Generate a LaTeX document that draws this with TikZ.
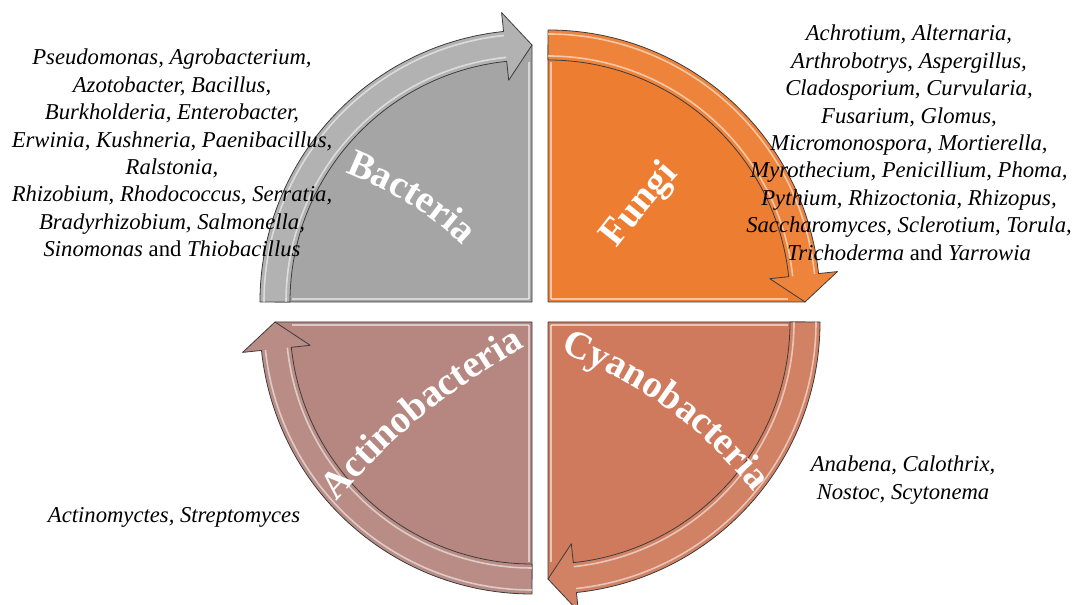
\documentclass[tikz,border=0pt]{standalone}
\usepackage{fontspec}
\setmainfont{Liberation Serif}
\usetikzlibrary{calc,decorations.text}
\definecolor{cbac}{RGB}{165,165,165}
\definecolor{cfun}{RGB}{237,125,49}
\definecolor{ccya}{RGB}{207,122,92}
\definecolor{cact}{RGB}{181,135,128}
\definecolor{edgecol}{RGB}{60,60,60}
\newcommand{\lblfont}{\fontsize{29}{29}\selectfont\bfseries\color{white}}
\newcommand{\drawquad}[4]{%
  \pgfmathsetmacro{\qs}{#2}%
  \pgfmathsetmacro{\qe}{#2-90}%
  \pgfmathsetmacro{\qd}{#2-90+6}%
  \filldraw[piece=#3] (#1) -- ($(#1)+(\qs:257)$) arc[start angle=\qs,end angle=\qe,radius=257] -- cycle;
  \draw[hl] ($(#1)+(\qs-90:3)+(\qs:3)$) -- ($(#1)+(\qs-90:3)+(\qs:240)$);
  \draw[hl] ($(#1)+(\qe+90:3)+(\qe:3)$) -- ($(#1)+(\qe+90:3)+(\qe:240)$);
  \filldraw[band=#4] ($(#1)+(\qs:272)$) arc[start angle=\qs,end angle=\qd,radius=272]
     -- ($(#1)+(\qd:291)$) -- ($(#1)+(\qe:257)$) -- ($(#1)+(\qd:223)$)
     -- ($(#1)+(\qd:242)$) arc[start angle=\qd,end angle=\qs,radius=242] -- cycle;
  \draw[hl] ($(#1)+(\qs:268)$) arc[start angle=\qs,end angle=\qd,radius=268];
  \draw[hl] ($(#1)+(\qs:246)$) arc[start angle=\qs,end angle=\qd,radius=246];
}
\begin{document}
\begin{tikzpicture}[x=0.75pt,y=0.75pt,
  piece/.style={fill=#1,draw=edgecol,line width=0.6pt,line join=round},
  band/.style={fill=#1,draw=edgecol,line width=0.6pt,line join=round},
  hl/.style={draw=white,opacity=0.55,line width=1.2pt},
  spec/.style={font=\fontsize{17}{20.55}\selectfont\itshape,inner sep=0pt,anchor=base},
  lbl/.style={decorate,decoration={text along path,text align=center,text={|\lblfont|#1}}}]
\fill[white] (0,0) rectangle (1077,605);
\useasboundingbox (0,0) rectangle (1077,605);
\coordinate (cb) at (532,303);
\coordinate (cf) at (548,303);
\coordinate (cc) at (548,283);
\coordinate (ca) at (532,283);
\drawquad{cb}{180}{cbac}{cbac!85!white}
\drawquad{cf}{90}{cfun}{cfun!95!white}
\drawquad{cc}{0}{ccya}{ccya!95!white}
\drawquad{ca}{270}{cact}{cact!95!white}
\path[lbl=Bacteria] (329,439) to[out=-22,in=134] (475,347);
\path[lbl=Fungi] (608,345) to[out=52,in=228] (688,441);
\path[lbl=Cyanobacteria] (543,261) to[out=-22,in=128] (766,98);
\path[lbl=Actinobacteria] (324,89) to[out=50,in=210] (542,268);
\node[spec] (bacl) at (172,540) {\begin{tabular}[t]{@{}c@{}}
Pseudomonas, Agrobacterium,\\
Azotobacter, Bacillus,\\
Burkholderia, Enterobacter,\\
Erwinia, Kushneria, Paenibacillus,\\
Ralstonia,\\
Rhizobium, Rhodococcus, Serratia,\\
Bradyrhizobium, Salmonella,\\
Sinomonas \textup{and} Thiobacillus\end{tabular}};
\node[spec] (funl) at (909,564) {\begin{tabular}[t]{@{}c@{}}
Achrotium, Alternaria,\\
Arthrobotrys, Aspergillus,\\
Cladosporium, Curvularia,\\
Fusarium, Glomus,\\
Micromonospora, Mortierella,\\
Myrothecium, Penicillium, Phoma,\\
Pythium, Rhizoctonia, Rhizopus,\\
Saccharomyces, Sclerotium, Torula,\\
Trichoderma \textup{and} Yarrowia\end{tabular}};
\node[spec] (cyal) at (903,133) {\begin{tabular}[t]{@{}c@{}}
Anabena, Calothrix,\\
Nostoc, Scytonema\end{tabular}};
\node[spec] (actl) at (174,82) {Actinomyctes, Streptomyces};
\end{tikzpicture}
\end{document}
